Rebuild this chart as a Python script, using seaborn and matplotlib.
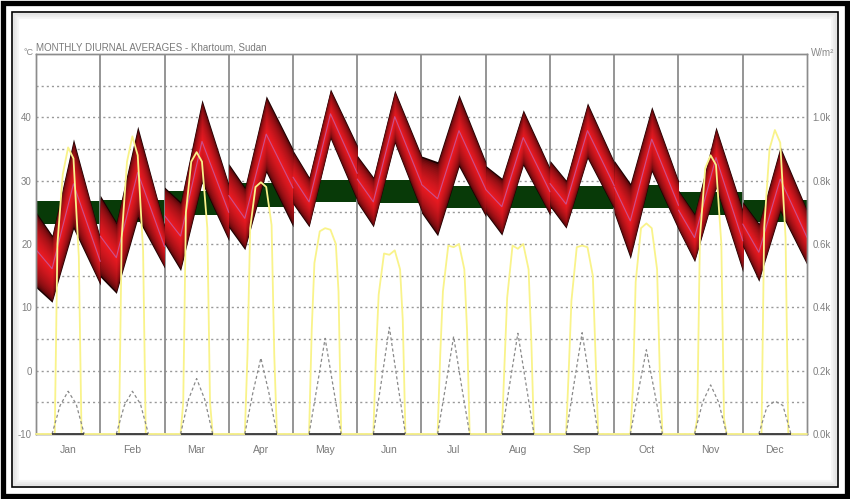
import matplotlib
matplotlib.use("Agg")
import matplotlib.pyplot as plt
from matplotlib.patches import Rectangle
from matplotlib.colors import to_rgb
import numpy as np
import pandas as pd
import seaborn as sns

months = ["Jan", "Feb", "Mar", "Apr", "May", "Jun",
          "Jul", "Aug", "Sep", "Oct", "Nov", "Dec"]

# hourly temperature band (deg C), read at a few hours of the day
band_hours = [0, 6, 14, 24]
temp_hi_0h = [25.1, 27.7, 29.0, 32.7, 34.8, 34.0, 33.9, 32.4, 33.2, 33.2, 28.5, 26.7]
temp_hi_6h = [21.4, 23.5, 26.7, 29.0, 30.6, 30.6, 33.0, 30.4, 30.1, 29.6, 24.8, 23.3]
temp_hi_14h = [36.6, 38.6, 42.8, 43.4, 44.5, 44.3, 43.6, 41.2, 42.3, 41.7, 38.5, 35.4]
temp_hi_24h = [21.0, 23.0, 29.5, 35.0, 35.6, 34.0, 33.0, 32.0, 33.0, 30.0, 25.4, 25.4]
temp_lo_0h = [13.1, 14.8, 20.0, 22.6, 26.3, 26.5, 24.9, 24.8, 25.9, 24.8, 22.2, 19.6]
temp_lo_6h = [10.8, 12.2, 15.8, 19.1, 22.7, 22.7, 21.3, 21.4, 22.5, 17.7, 17.2, 14.1]
temp_lo_14h = [22.4, 24.0, 29.6, 31.3, 36.6, 35.9, 32.2, 32.4, 33.5, 31.4, 28.8, 25.1]
temp_lo_24h = [13.5, 16.2, 20.5, 22.7, 26.7, 25.1, 24.3, 24.5, 25.4, 22.2, 15.6, 16.7]

# comfort band (deg C)
comfort_lo = [23.1, 23.5, 24.6, 25.8, 26.7, 26.5, 25.7, 25.7, 25.6, 25.7, 24.6, 23.5]
comfort_hi = [26.8, 26.9, 28.3, 29.6, 30.1, 30.1, 29.1, 29.2, 29.1, 29.3, 28.2, 26.9]

# direct solar radiation (W/m2), zero at night
sun_hours = [0, 6, 7, 8, 10, 12, 14, 16, 17, 18, 24]
direct_7h = [0, 0, 100, 250, 330, 250, 250, 220, 200, 150, 50, 0]
direct_8h = [600, 620, 700, 650, 540, 440, 450, 430, 420, 480, 620, 650]
direct_10h = [820, 860, 860, 780, 640, 570, 595, 595, 590, 650, 840, 900]
direct_12h = [905, 940, 890, 795, 650, 566, 590, 585, 595, 665, 880, 960]
direct_14h = [870, 880, 860, 780, 645, 580, 600, 600, 590, 650, 850, 920]
direct_16h = [560, 580, 650, 660, 600, 520, 520, 520, 500, 520, 600, 620]
direct_17h = [0, 0, 100, 250, 450, 360, 330, 300, 250, 200, 50, 0]

# diffuse solar radiation (W/m2)
diff_hours = [6, 9, 12, 15, 18]
diffuse_9h = [90, 90, 110, 130, 150, 165, 150, 160, 160, 135, 100, 85]
diffuse_12h = [135, 135, 175, 240, 302, 337, 308, 318, 320, 266, 155, 104]
diffuse_15h = [95, 95, 110, 130, 150, 165, 150, 160, 160, 135, 100, 90]

sns.set_style("white")
plt.rcParams['font.family'] = ['Liberation Sans', 'DejaVu Sans']
plt.rcParams['axes.unicode_minus'] = False

fig = plt.figure(figsize=(8.5, 4.99), dpi=100)
ax = fig.add_axes([36 / 850, 1 - 434 / 499, 771 / 850, 380 / 499])
ax2 = ax.twinx()

# long tables
band_rows = []
sun_rows = []
diff_rows = []
for m, name in enumerate(months):
    hi = [temp_hi_0h[m], temp_hi_6h[m], temp_hi_14h[m], temp_hi_24h[m]]
    lo = [temp_lo_0h[m], temp_lo_6h[m], temp_lo_14h[m], temp_lo_24h[m]]
    for h, a, b in zip(band_hours, hi, lo):
        band_rows.append({"month": name, "x": m * 24 + h, "hi": a, "lo": b})
    sun = [0, 0, direct_7h[m], direct_8h[m], direct_10h[m], direct_12h[m],
           direct_14h[m], direct_16h[m], direct_17h[m], 0, 0]
    for h, v in zip(sun_hours, sun):
        sun_rows.append({"month": name, "x": m * 24 + h, "direct": v})
    dif = [0, diffuse_9h[m], diffuse_12h[m], diffuse_15h[m], 0]
    for h, v in zip(diff_hours, dif):
        diff_rows.append({"month": name, "x": m * 24 + h, "diffuse": v})
band = pd.DataFrame(band_rows)
band["mid"] = (band["hi"] + band["lo"]) / 2
sun_df = pd.DataFrame(sun_rows)
diff_df = pd.DataFrame(diff_rows)

# comfort zone
for m, name in enumerate(months):
    ax.fill_between([m * 24, m * 24 + 24], comfort_lo[m], comfort_hi[m],
                    color="#083a08", lw=0, zorder=1.2)

# temperature band with dark edges and bright core
edge = np.array(to_rgb("#1a0000"))
core = np.array(to_rgb("#ea1a22"))
n_layers = 18
for name, g in band.groupby("month", sort=False):
    hi = g["hi"].values
    lo = g["lo"].values
    for i in range(n_layers):
        f = 0.5 * i / n_layers
        t = (i / (n_layers - 1)) ** 0.4
        ax.fill_between(g["x"], lo + (hi - lo) * f, hi - (hi - lo) * f,
                        color=edge + (core - edge) * t, lw=0, zorder=2)
sns.lineplot(data=band, x="x", y="mid", units="month", estimator=None,
             color="#c8508e", lw=0.8, ax=ax, legend=False, zorder=3)

for m in range(1, 12):
    ax.axvline(m * 24, color="#8c8c8c", lw=1.3, zorder=1.5)

ax.set_xlim(0, 288)
ax.set_ylim(-10, 50)
ax.set_yticks(range(-10, 50, 10))
ax.set_yticks(range(-5, 50, 10), minor=True)
ax.grid(axis="y", which="both", ls=(0, (1.5, 2.2)), color="#999999", lw=1.0)
ax.set_axisbelow(True)
ax.set_xticks([m * 24 + 12 for m in range(12)])
ax.set_xticklabels(months)
ax.set_xticks([m * 24 + h for m in range(12) for h in (0, 6, 18)] + [288], minor=True)
ax.tick_params(axis="x", which="both", length=4, width=0.9, color="#555555",
               direction="out", pad=4, labelsize=7.5, labelcolor="#7a7a7a")
ax.tick_params(axis="y", which="both", length=0, pad=3, labelsize=7,
               labelcolor="#808080")
ax.set_xlabel("")
ax.set_ylabel("")

# solar radiation on the right axis
sns.lineplot(data=sun_df, x="x", y="direct", units="month", estimator=None,
             color="#f9f38a", lw=1.3, ax=ax2, legend=False, clip_on=False, zorder=4)
sns.lineplot(data=diff_df, x="x", y="diffuse", units="month", estimator=None,
             color="#8a8a8a", lw=0.9, linestyle=(0, (2.5, 2)), ax=ax2,
             legend=False, zorder=4)
ax2.hlines([0] * 12, [m * 24 + 6 for m in range(12)], [m * 24 + 18 for m in range(12)],
           color="#3a3a3a", lw=1.3, zorder=5, clip_on=False)
ax2.set_ylim(0, 1200)
ax2.set_yticks(range(0, 1001, 200))
ax2.set_yticklabels([f"{v / 1000:.1f}k" for v in range(0, 1001, 200)])
ax2.tick_params(axis="y", length=0, pad=4, labelsize=7, labelcolor="#808080")
ax2.grid(False)
ax2.set_ylabel("")
ax2.set_xlabel("")

for a in (ax, ax2):
    for s in a.spines.values():
        s.set_color("#8c8c8c")
        s.set_linewidth(1.0)

fig.text(36 / 850, 1 - 53 / 499, "MONTHLY DIURNAL AVERAGES - Khartoum, Sudan",
         fontsize=7, color="#7a7a7a", ha="left", va="bottom")
fig.text(24 / 850, 1 - 57 / 499, "°C", fontsize=6.5, color="#888888",
         ha="left", va="bottom")
fig.text(811 / 850, 1 - 58 / 499, "W/m²", fontsize=7, color="#888888",
         ha="left", va="bottom")

# picture frame with a soft inner shadow
for k, a in enumerate([0.10, 0.07, 0.04]):
    inset = 14 + 2 * k
    fig.add_artist(Rectangle((inset / 850, inset / 499), (850 - 2 * inset) / 850,
                             (499 - 2 * inset) / 499, transform=fig.transFigure,
                             fill=False, ec="black", alpha=a, lw=1.6))
fig.add_artist(Rectangle((3 / 850, 3 / 499), 844 / 850, 493 / 499, transform=fig.transFigure,
                         fill=False, ec="black", lw=3.8))
fig.add_artist(Rectangle((12 / 850, 12 / 499), 826 / 850, 475 / 499, transform=fig.transFigure,
                         fill=False, ec="black", lw=1.2))

fig.savefig("out.png", dpi=100)
plt.close(fig)
